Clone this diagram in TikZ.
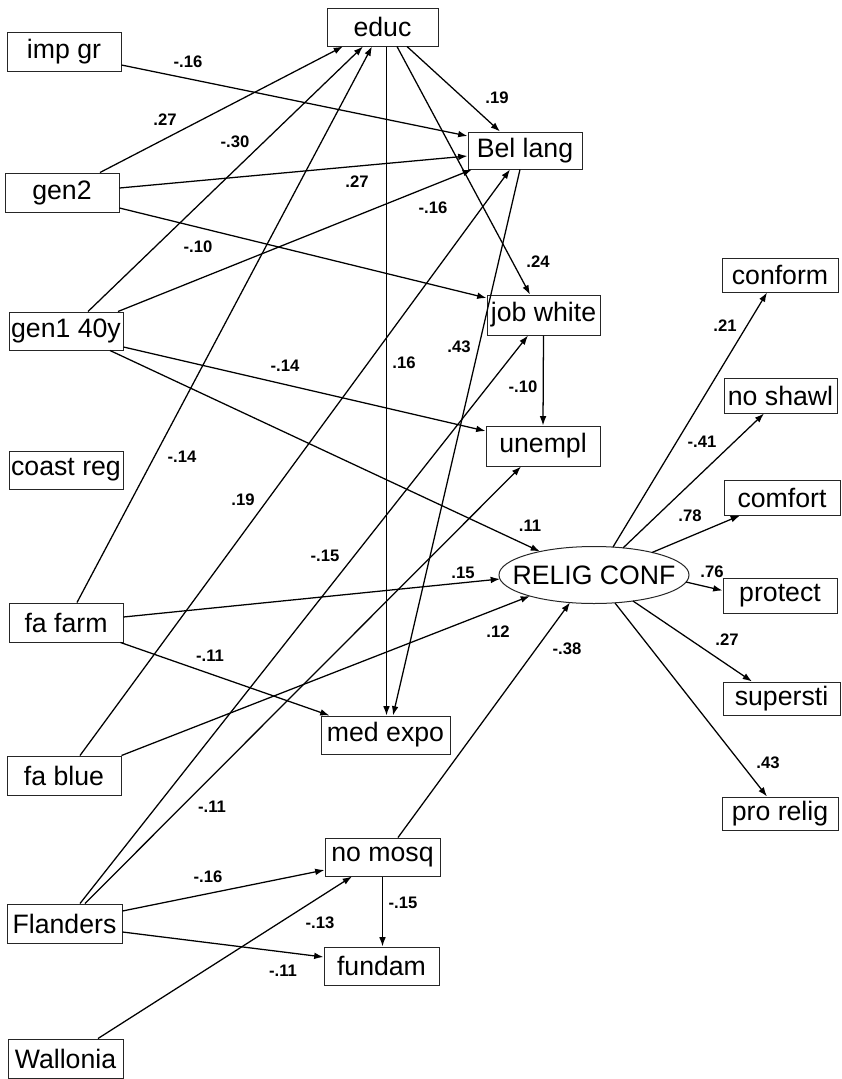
\documentclass[tikz,border=0pt]{standalone}
\usepackage{fontspec}
\setmainfont{Liberation Sans}
\usetikzlibrary{shapes.geometric,arrows.meta,calc}

\begin{document}
\begin{tikzpicture}[x=0.75pt,y=-0.75pt,
  var/.style={draw=black!85, line width=0.75pt, inner sep=0pt,
    minimum width=85.5pt, minimum height=28.5pt,
    font=\fontsize{20}{24}\selectfont},
  bw/.style={minimum width={#1*0.75pt}},
  bh/.style={minimum height={#1*0.75pt}},
  link/.style={draw=black, line width=0.95pt, -{Latex[length=7pt,width=5pt]}},
  coef/.style={font=\fontsize{12.5}{14}\selectfont\bfseries, inner sep=0pt}
]
\useasboundingbox (0,0) rectangle (842,1079);

% exogenous variables (left column)
\node[var,bw=114,bh=39] (impgr)    at (64,51.5)    {imp gr};
\node[var,bw=114,bh=39] (gen2)     at (62,192.5)   {gen2};
\node[var,bw=114,bh=38] (gen1)     at (66,331)     {gen1 40y};
\node[var,bw=114,bh=38] (coast)    at (66,470)     {coast reg};
\node[var,bw=114,bh=39] (fafarm)   at (66,622.5)   {fa farm};
\node[var,bw=114,bh=39] (fablue)   at (64,775.5)   {fa blue};
\node[var,bw=115,bh=39] (flanders) at (64.5,923.5) {Flanders};
\node[var,bw=115,bh=39] (wallonia) at (65.5,1058.5){Wallonia};

% mediating variables
\node[var,bw=111,bh=38] (educ)     at (382.5,27)   {educ};
\node[var,bw=114,bh=37] (bellang)  at (525,150.5)  {Bel lang};
\node[var,bw=113,bh=40] (jobwhite) at (543.5,315)  {job white};
\node[var,bw=114,bh=40] (unempl)   at (543,446)    {unempl};
\node[var,bw=129,bh=38] (medexpo)  at (385.5,735)  {med expo};
\node[var,bw=115,bh=38] (nomosq)   at (382.5,857)  {no mosq};
\node[var,bw=115,bh=38] (fundam)   at (381.5,966)  {fundam};

% latent factor and its indicators
\node[draw=black!85, line width=0.75pt, ellipse, inner sep=0pt,
      minimum width={190*0.75pt}, minimum height={57*0.75pt},
      font=\fontsize{20}{24}\selectfont] (relig) at (594,575) {\makebox[0pt]{RELIG CONF}};
\node[var,bw=116,bh=34] (conform)  at (780,275)    {conform};
\node[var,bw=113,bh=35] (noshawl)  at (780.5,395.5){no shawl};
\node[var,bw=116,bh=35] (comfort)  at (782,497.5)  {comfort};
\node[var,bw=114,bh=35] (protect)  at (780,595.5)  {protect};
\node[var,bw=117,bh=33] (supersti) at (781.5,698.5){supersti};
\node[var,bw=116,bh=33] (prorelig) at (780,813.5)  {pro relig};

% paths from background variables
\draw[link] ($(impgr.east)+(0,13.5)$)   -- ($(bellang.west)+(0,-14.5)$);
\draw[link] ($(gen2.north)+(38,0)$)     -- ($(educ.south)+(-39.5,0)$);
\draw[link] ($(gen2.east)+(0,-4.5)$)    -- ($(bellang.west)+(0,5.5)$);
\draw[link] ($(gen2.east)+(0,15.5)$)    -- ($(jobwhite.west)+(0,-17)$);
\draw[link] ($(gen1.north)+(22,0)$)     -- ($(educ.south)+(-19.5,0)$);
\draw[link] ($(gen1.north)+(52,0)$)     -- ($(bellang.south)+(-53,0)$);
\draw[link] ($(gen1.east)+(0,16)$)      -- ($(unempl.west)+(0,-15)$);
\draw[link] ($(gen1.south)+(44,0)$)     -- ($(relig.center)+(-54,-23.5)$);
\draw[link] ($(fafarm.north)+(11,0)$)   -- ($(educ.south)+(-10.5,0)$);
\draw[link] ($(fafarm.east)+(0,-5.5)$)  -- ($(relig.center)+(-94,4)$);
\draw[link] ($(fafarm.south east)+(-3,0)$) -- ($(medexpo.north west)+(9,0)$);
\draw[link] ($(fablue.north)+(16,0)$)   -- ($(bellang.south)+(-15,0)$);
\draw[link] (fablue.north east)         -- ($(relig.center)+(-64,21)$);
\draw[link] ($(flanders.north)+(15.5,0)$) -- ($(jobwhite.south)+(-15.5,0)$);
\draw[link] ($(flanders.north)+(20.5,0)$) -- ($(unempl.south)+(-22,0)$);
\draw[link] ($(flanders.east)+(0,-12.5)$) -- ($(nomosq.west)+(0,13)$);
\draw[link] ($(flanders.east)+(0,8.5)$)   -- ($(fundam.west)+(0,-9)$);
\draw[link] ($(wallonia.north)+(32.5,0)$) -- ($(nomosq.south)+(-30.5,0)$);

% paths between mediators
\draw[link] ($(educ.south)+(24.5,0)$)   -- ($(bellang.north)+(-25,0)$);
\draw[link] ($(educ.south)+(14.5,0)$)   -- ($(jobwhite.north)+(-13.5,0)$);
\draw[link] ($(educ.south)+(4,0)$)      -- ($(medexpo.north)+(1,0)$);
\draw[link] ($(bellang.south)+(-5,0)$)  -- ($(medexpo.north)+(7.5,0)$);
\draw[link] (jobwhite.south)            -- (unempl.north);
\draw[link] (nomosq.south)              -- (nomosq.south |- fundam.north);
\draw[link] ($(nomosq.north)+(15.5,0)$) -- ($(relig.center)+(-24,27.5)$);

% factor loadings
\draw[link] ($(relig.center)+(19,-28)$)  -- ($(conform.south)+(-13,0)$);
\draw[link] ($(relig.center)+(29,-27)$)  -- ($(noshawl.south)+(-16.5,0)$);
\draw[link] ($(relig.center)+(58,-22.5)$) -- ($(comfort.south)+(-42,0)$);
\draw[link] ($(relig.center)+(92,7)$)    -- ($(protect.west)+(0,-5)$);
\draw[link] ($(relig.center)+(39,26)$)   -- ($(supersti.north)+(-29.5,0)$);
\draw[link] ($(relig.center)+(21,28)$)   -- ($(prorelig.north)+(-13,0)$);

% coefficients
\node[coef] at (188,62)  {-.16};
\node[coef] at (165,120) {.27};
\node[coef] at (235,142) {-.30};
\node[coef] at (357,182) {.27};
\node[coef] at (198,247) {-.10};
\node[coef] at (433,208) {-.16};
\node[coef] at (497,98)  {.19};
\node[coef] at (538,262) {.24};
\node[coef] at (285,366) {-.14};
\node[coef] at (404,363) {.16};
\node[coef] at (182,457) {-.14};
\node[coef] at (243,500) {.19};
\node[coef] at (459,347) {.43};
\node[coef] at (523,387) {-.10};
\node[coef] at (725,326) {.21};
\node[coef] at (702,442) {-.41};
\node[coef] at (690,516) {.78};
\node[coef] at (530,526) {.11};
\node[coef] at (325,556) {-.15};
\node[coef] at (210,656) {-.11};
\node[coef] at (212,807) {-.11};
\node[coef] at (463,573) {.15};
\node[coef] at (498,632) {.12};
\node[coef] at (567,649) {-.38};
\node[coef] at (712,572) {.76};
\node[coef] at (727,640) {.27};
\node[coef] at (768,763) {.43};
\node[coef] at (208,877) {-.16};
\node[coef] at (320,923) {-.13};
\node[coef] at (283,971) {-.11};
\node[coef] at (403,903) {-.15};
\end{tikzpicture}
\end{document}
